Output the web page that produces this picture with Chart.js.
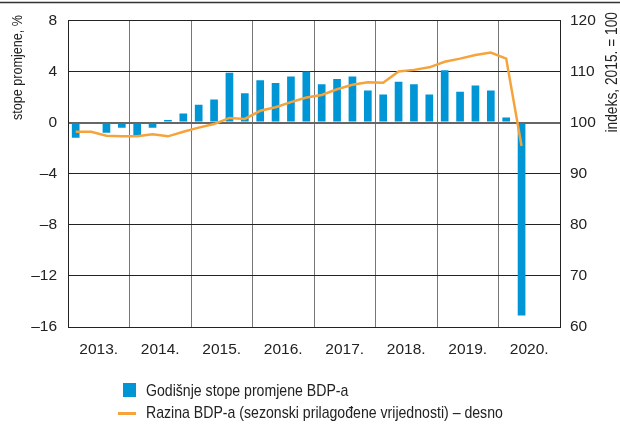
<!DOCTYPE html>
<html>
<head>
<meta charset="utf-8">
<script src="https://cdn.jsdelivr.net/npm/chart.js@4.4.1/dist/chart.umd.min.js"></script>
<style>
  html, body { margin: 0; padding: 0; background: #fff; }
  #wrap { position: relative; width: 620px; height: 425px; overflow: hidden; }
  #legend { position: absolute; left: 118px; top: 380px; font-family: 'Liberation Sans', Arial, sans-serif; font-size: 17px; color: #222; }
  .item { position: relative; height: 22px; line-height: 22px; padding-left: 28px; white-space: nowrap; }
  .item span.t { display: inline-block; transform: scaleX(0.83); transform-origin: left center; }
  .box { position: absolute; left: 5px; top: 3px; width: 13px; height: 14px; background: #0096d6; }
  .ln { position: absolute; left: 0; top: 10px; width: 18px; height: 2.5px; background: #f6a33b; }
</style>
</head>
<body>
<div id="wrap">
  <canvas id="chart" width="620" height="425"></canvas>
  <div id="legend">
    <div class="item"><span class="box"></span><span class="t">Godišnje stope promjene BDP-a</span></div>
    <div class="item"><span class="ln"></span><span class="t">Razina BDP-a (sezonski prilagođene vrijednosti) – desno</span></div>
  </div>
</div>
<script>
// quarterly categories, 2013 Q1 - 2020 Q4
const quarters = [
  '2013 Q1', '2013 Q2', '2013 Q3', '2013 Q4',
  '2014 Q1', '2014 Q2', '2014 Q3', '2014 Q4',
  '2015 Q1', '2015 Q2', '2015 Q3', '2015 Q4',
  '2016 Q1', '2016 Q2', '2016 Q3', '2016 Q4',
  '2017 Q1', '2017 Q2', '2017 Q3', '2017 Q4',
  '2018 Q1', '2018 Q2', '2018 Q3', '2018 Q4',
  '2019 Q1', '2019 Q2', '2019 Q3', '2019 Q4',
  '2020 Q1', '2020 Q2', '2020 Q3', '2020 Q4'
];
const yearLabels = ['2013.', '2014.', '2015.', '2016.', '2017.', '2018.', '2019.', '2020.'];

// annual growth rates, %
const growth = [
  -1.2, -0.1, -0.8, -0.4,
  -1.0, -0.4, 0.2, 0.7,
  1.4, 1.8, 3.9, 2.3,
  3.3, 3.1, 3.6, 4.0,
  3.0, 3.4, 3.6, 2.5,
  2.2, 3.2, 3.0, 2.2,
  4.1, 2.4, 2.9, 2.5,
  0.4, -15.1
];

// GDP level, seasonally adjusted, index 2015 = 100 (right axis)
const level = [
  98.2, 98.2, 97.4, 97.3,
  97.3, 97.7, 97.3, 98.2,
  99.0, 99.7, 100.9, 100.7,
  102.3, 103.0, 104.0, 104.9,
  105.4, 106.5, 107.4, 107.9,
  107.8, 110.0, 110.3, 110.8,
  111.9, 112.5, 113.2, 113.7,
  112.5, 95.4
];

const leftTicks = [-16, -12, -8, -4, 0, 4, 8];
const rightTicks = [60, 70, 80, 90, 100, 110, 120];

const FONT = "'Liberation Sans', Arial, sans-serif";
const dash = v => String(v).replace('-', '\u2013');

// draws rotated text reading bottom-to-top, squeezed a bit like a condensed face
function vText(c, txt, x, y, size, squeeze) {
  c.save();
  c.fillStyle = '#222';
  c.font = size + 'px ' + FONT;
  c.textAlign = 'right';
  c.textBaseline = 'middle';
  c.translate(x, y);
  c.rotate(-Math.PI / 2);
  c.scale(squeeze, 1);
  c.fillText(txt, 0, 0);
  c.restore();
}

// axis titles and the rule across the top
const decor = {
  id: 'decor',
  afterDraw(chart) {
    const c = chart.ctx;
    c.save();
    c.strokeStyle = '#333';
    c.lineWidth = 1.5;
    c.beginPath();
    c.moveTo(0, 2.5);
    c.lineTo(620, 2.5);
    c.stroke();
    c.restore();

    vText(c, 'stope promjene, %', 18, 15, 15, 0.84);
    vText(c, 'indeks, 2015. = 100', 613, 12, 16, 0.86);
  }
};

new Chart(document.getElementById('chart'), {
  data: {
    labels: quarters,
    datasets: [
      {
        type: 'line',
        label: 'Razina BDP-a (sezonski prilagođene vrijednosti) – desno',
        data: level,
        yAxisID: 'y1',
        borderColor: '#f6a33b',
        borderWidth: 2.5,
        pointRadius: 0,
        tension: 0,
        order: 0
      },
      {
        type: 'bar',
        label: 'Godišnje stope promjene BDP-a',
        data: growth,
        yAxisID: 'y',
        backgroundColor: '#0096d6',
        borderWidth: 0,
        categoryPercentage: 1,
        barPercentage: 0.5,
        order: 1
      }
    ]
  },
  options: {
    responsive: false,
    animation: false,
    layout: { padding: { top: 17, left: 0, right: 0, bottom: 0 } },
    plugins: { legend: { display: false }, tooltip: { enabled: false } },
    scales: {
      x: {
        grid: {
          offset: true,
          drawTicks: false,
          color: ctx => (ctx.index % 4 === 0 ? '#777' : 'rgba(0,0,0,0)'),
          lineWidth: 1
        },
        border: { display: false },
        ticks: {
          autoSkip: false,
          maxRotation: 0,
          padding: 13,
          labelOffset: 7.7,
          color: '#222',
          font: { family: FONT, size: 15.5 },
          callback: (v, i) => (i % 4 === 1 ? yearLabels[Math.floor(i / 4)] : '')
        },
        afterFit: s => { s.height = 98; }
      },
      y: {
        position: 'left',
        min: -16,
        max: 8,
        afterBuildTicks: s => { s.ticks = leftTicks.map(v => ({ value: v })); },
        grid: {
          drawTicks: false,
          color: ctx => (ctx.tick && ctx.tick.value === 0 ? '#666' : '#222'),
          lineWidth: ctx => (ctx.tick && ctx.tick.value === 0 ? 2 : 1)
        },
        border: { display: true, color: '#222', width: 1 },
        ticks: {
          padding: 11,
          color: '#222',
          font: { family: FONT, size: 15.5 },
          callback: v => dash(v)
        },
        afterFit: s => { s.width = 68; }
      },
      y1: {
        position: 'right',
        min: 60,
        max: 120,
        afterBuildTicks: s => { s.ticks = rightTicks.map(v => ({ value: v })); },
        grid: { display: false, drawTicks: false },
        border: { display: true, color: '#222', width: 1 },
        ticks: {
          padding: 10,
          color: '#222',
          font: { family: FONT, size: 15.5 }
        },
        afterFit: s => { s.width = 60; }
      }
    }
  },
  plugins: [decor]
});
</script>
</body>
</html>
